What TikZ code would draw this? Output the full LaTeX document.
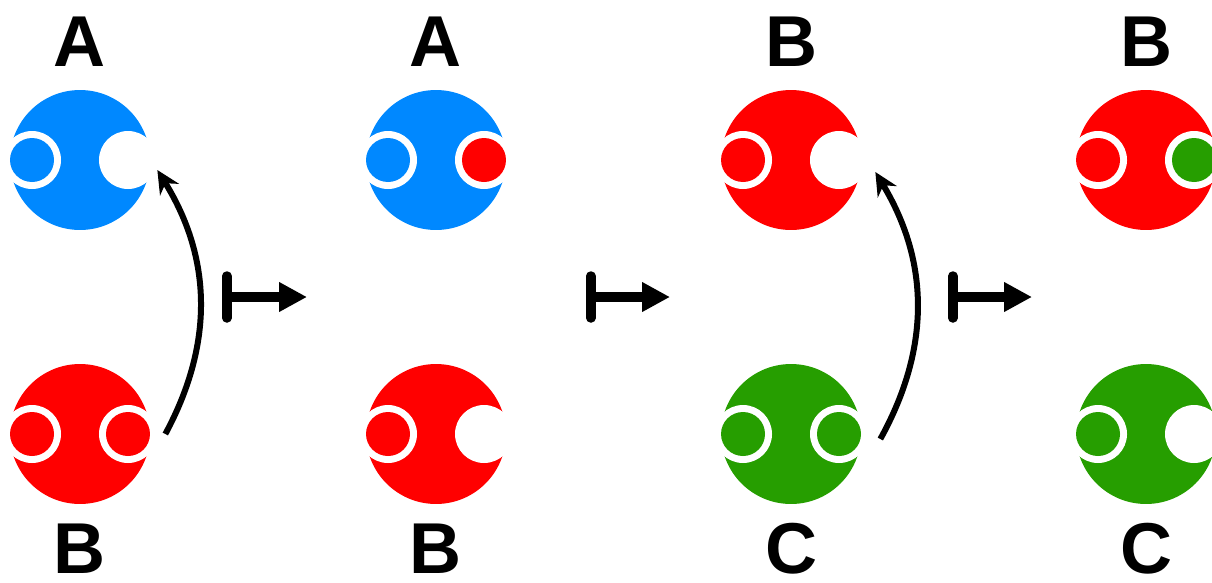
\documentclass[tikz,border=0pt]{standalone}
\usepackage{fontspec}
\setmainfont{Liberation Sans}
\usetikzlibrary{arrows.meta,positioning}

\definecolor{agentblue}{RGB}{0,136,255}
\definecolor{agentred}{RGB}{255,0,0}
\definecolor{agentgreen}{RGB}{38,158,0}

\tikzset{
  body/.style={circle, fill=#1, minimum size=2.8cm, inner sep=0pt},
  tag/.style={font=\fontsize{41}{41}\selectfont\bfseries, inner sep=0pt},
  bind/.style={line width=0.12cm, -{Stealth[length=0.46cm,width=0.44cm]}, bend right=30},
  mapsto/.style={line width=0.19cm, {Bar[width=0.84cm,round]}-{Triangle[length=0.56cm,width=0.56cm]}},
}
% a port: white rim, with a ball of colour #2 sitting in it
\def\port(#1)#2{\fill[white] (#1) circle (0.58cm); \fill[#2] (#1) circle (0.44cm);}
% a free port: just the white notch
\def\hole(#1){\fill[white] (#1) circle (0.58cm);}

\begin{document}
\begin{tikzpicture}[x=0.02cm, y=-0.02cm]
  \useasboundingbox (0,0) rectangle (1212,582);

  %%%%% step 1: B reaches into the free port of A %%%%%
  \node[body=agentblue] (a1) at (80,160) {};
  \node[body=agentred] (b1) at (80,434) {};
  \port([xshift=-0.96cm]a1.center){agentblue}
  \hole([xshift=0.96cm]a1.center)
  \port([xshift=-0.96cm]b1.center){agentred}
  \port([xshift=0.96cm]b1.center){agentred}
  \node[tag, above=0.46cm of a1] (la1) {A};
  \node[tag, below=0.38cm of b1] (lb1) {B};
  \coordinate (s1) at ([shift={(0.3cm,0cm)}]b1.east);
  \coordinate (t1) at ([shift={(0.14cm,-0.2cm)}]a1.east);
  \draw[bind] (s1) to (t1);

  %%%%% step 2 %%%%%
  \node[body=agentblue] (a2) at (436,160) {};
  \node[body=agentred] (b2) at (436,434) {};
  \port([xshift=-0.96cm]a2.center){agentblue}
  \port([xshift=0.96cm]a2.center){agentred}
  \port([xshift=-0.96cm]b2.center){agentred}
  \hole([xshift=0.96cm]b2.center)
  \node[tag, above=0.46cm of a2] (la2) {A};
  \node[tag, below=0.38cm of b2] (lb2) {B};

  %%%%% step 3: C reaches into the free port of B %%%%%
  \node[body=agentred] (a3) at (791,160) {};
  \node[body=agentgreen] (b3) at (791,434) {};
  \port([xshift=-0.96cm]a3.center){agentred}
  \hole([xshift=0.96cm]a3.center)
  \port([xshift=-0.96cm]b3.center){agentgreen}
  \port([xshift=0.96cm]b3.center){agentgreen}
  \node[tag, above=0.46cm of a3] (la3) {B};
  \node[tag, below=0.38cm of b3] (lb3) {C};
  \coordinate (s3) at ([shift={(0.38cm,-0.1cm)}]b3.east);
  \coordinate (t3) at ([shift={(0.28cm,-0.24cm)}]a3.east);
  \draw[bind] (s3) to (t3);

  %%%%% step 4 %%%%%
  \node[body=agentred] (a4) at (1146,160) {};
  \node[body=agentgreen] (b4) at (1146,434) {};
  \port([xshift=-0.96cm]a4.center){agentred}
  \port([xshift=0.96cm]a4.center){agentgreen}
  \port([xshift=-0.96cm]b4.center){agentgreen}
  \hole([xshift=0.96cm]b4.center)
  \node[tag, above=0.46cm of a4] (la4) {B};
  \node[tag, below=0.38cm of b4] (lb4) {C};

  % the steps in between
  \foreach \from/\to [count=\i] in {222/307, 586/670, 948/1032} {
    \coordinate (m\i) at (\from,297);
    \coordinate (n\i) at (\to,297);
    \draw[mapsto] (m\i) -- (n\i);
  }
\end{tikzpicture}
\end{document}
